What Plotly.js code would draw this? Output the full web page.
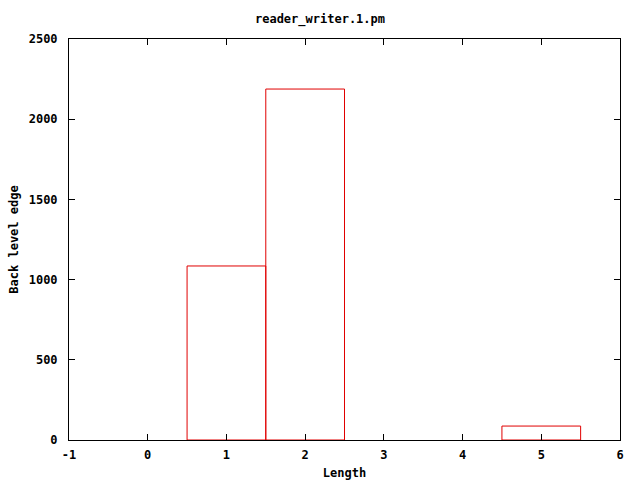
<!DOCTYPE html>
<html><head><meta charset="utf-8">
<script src="https://cdn.plot.ly/plotly-3.0.1.min.js"></script>
<style>body{margin:0;background:#fff}#c{width:640px;height:480px}</style>
</head><body><div id="c"></div>
<script>
const lengths = [1, 2, 5];
const counts = [1085, 2188, 87];
const xTicks = [-1, 0, 1, 2, 3, 4, 5, 6];
const yTicks = [0, 500, 1000, 1500, 2000, 2500];
const F = {family: "DejaVu Sans Mono, monospace", size: 12, color: "#000", weight: "bold"};
const trace = {
  type: "bar", x: lengths, y: counts, width: 1,
  marker: {color: "rgba(0,0,0,0)", line: {color: "#e00000", width: 1}},
  hoverinfo: "none"
};
const layout = {
  width: 640, height: 480,
  margin: {l: 69, r: 20, t: 39, b: 40},
  paper_bgcolor: "#fff", plot_bgcolor: "#fff",
  showlegend: false,
  font: F,
  title: {text: "reader_writer.1.pm", font: F, x: 0.5, xanchor: "center", y: 0.96, yanchor: "middle"},
  xaxis: {
    range: [-1, 6], tickvals: xTicks, ticktext: xTicks.map(String),
    showgrid: false, zeroline: false, showline: true, linecolor: "#000", linewidth: 1,
    mirror: "allticks", ticks: "inside", ticklen: 6, tickcolor: "#000",
    ticklabelstandoff: 4,
    tickfont: F, title: {text: "Length", font: F, standoff: 10}
  },
  yaxis: {
    range: [0, 2500], tickvals: yTicks, ticktext: yTicks.map(String),
    showgrid: false, zeroline: false, showline: true, linecolor: "#000", linewidth: 1,
    mirror: "allticks", ticks: "inside", ticklen: 6, tickcolor: "#000",
    ticklabelstandoff: 8,
    tickfont: F, title: {text: "Back level edge", font: F, standoff: 7}
  }
};
Plotly.newPlot("c", [trace], layout, {staticPlot: true});
</script></body></html>
